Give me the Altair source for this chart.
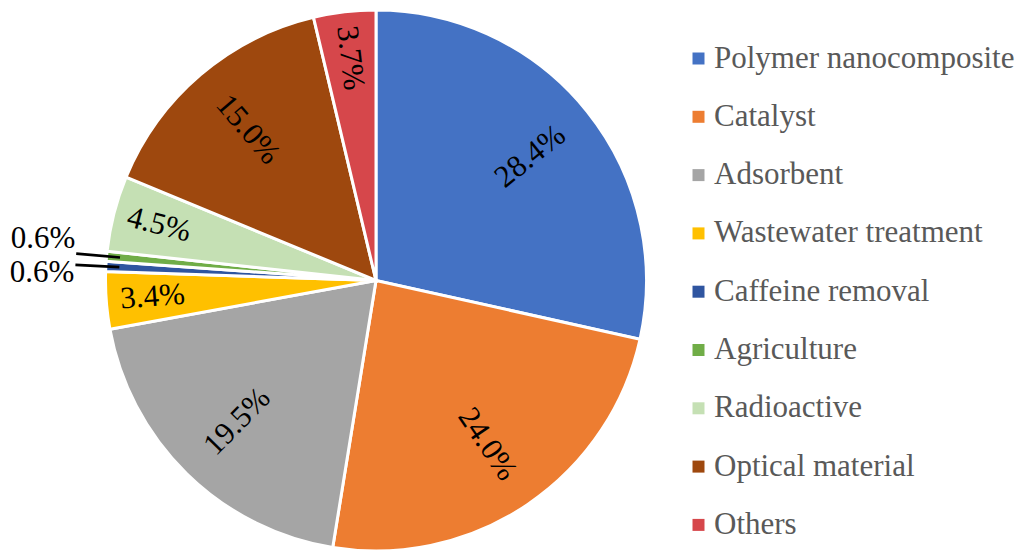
import altair as alt
import pandas as pd

categories = ["Polymer nanocomposite", "Catalyst", "Adsorbent", "Wastewater treatment",
              "Caffeine removal", "Agriculture", "Radioactive", "Optical material", "Others"]
values = [28.4, 24.0, 19.5, 3.4, 0.6, 0.6, 4.5, 15.0, 3.7]
colors = ["#4472C4", "#ED7D31", "#A5A5A5", "#FFC000", "#2F55A0",
          "#70AD47", "#C5E0B4", "#9E480E", "#D6474B"]

df = pd.DataFrame({"category": categories, "value": values, "order": list(range(len(values)))})
total = df["value"].sum()
df["start"] = df["value"].cumsum() - df["value"]
df["mid"] = df["start"] + df["value"] / 2
df["label"] = df["value"].map(lambda v: f"{v:.1f}%")
mid_deg = df["mid"] / total * 360
df["rot"] = [((m - 90) % 360) if m < 180 else ((m - 270) % 360) for m in mid_deg]
df["lead0"] = df["mid"] - 0.02
df["lead1"] = df["mid"] + 0.02

CX, CY, R = 368, 272.5, 270.5
FONT = "Times New Roman, Liberation Serif, serif"
FS = 31

color = alt.Color("category:N", sort=categories,
                  scale=alt.Scale(domain=categories, range=colors),
                  legend=alt.Legend(title=None, orient="none", legendX=675, legendY=35,
                                    symbolType="square", symbolSize=144, symbolStrokeWidth=0,
                                    labelFont=FONT, labelFontSize=FS, labelColor="#595959",
                                    rowPadding=26.3, labelOffset=0, padding=0, labelLimit=400))

base = alt.Chart(df).encode(
    x=alt.value(CX), y=alt.value(CY),
)

arcs = base.mark_arc(radius=R, stroke="white", strokeWidth=3).encode(
    theta=alt.Theta("value:Q", stack=True),
    color=color,
    order=alt.Order("order:Q"),
)

tscale = alt.Scale(domain=[0, total], range=[0, 6.283185307179586])

big = base.transform_filter("datum.value >= 10").mark_text(
    radius=198, font=FONT, fontSize=FS, color="black", align="center", baseline="middle"
).encode(
    theta=alt.Theta("mid:Q", scale=tscale),
    text="label:N",
    angle=alt.Angle("rot:Q", scale=None),
)

mid_labels = base.transform_filter("datum.value >= 1 && datum.value < 10").mark_text(
    radius=224, font=FONT, fontSize=FS, color="black", align="center", baseline="middle"
).encode(
    theta=alt.Theta("mid:Q", scale=tscale),
    text="label:N",
    angle=alt.Angle("rot:Q", scale=None),
)

leaders = base.transform_filter("datum.value < 1").mark_arc(
    radius=258, radius2=300, stroke="black", strokeWidth=2, fill="black"
).encode(
    theta=alt.Theta("lead0:Q", scale=tscale),
    theta2="lead1:Q",
)

small_a = base.transform_filter(f"datum.category == '{categories[5]}'").mark_text(
    radius=302, font=FONT, fontSize=FS, color="black", align="right", baseline="middle", dy=-14
).encode(theta=alt.Theta("mid:Q", scale=tscale), text="label:N")

small_b = base.transform_filter(f"datum.category == '{categories[4]}'").mark_text(
    radius=302, font=FONT, fontSize=FS, color="black", align="right", baseline="middle", dy=8
).encode(theta=alt.Theta("mid:Q", scale=tscale), text="label:N")

chart = alt.layer(arcs, leaders, big, mid_labels, small_a, small_b).properties(
    width=1020, height=545, padding=0, autosize=alt.AutoSizeParams(type="none")
).configure_view(stroke=None)

chart.save("out.html", embed_options={"renderer": "svg", "actions": False})
